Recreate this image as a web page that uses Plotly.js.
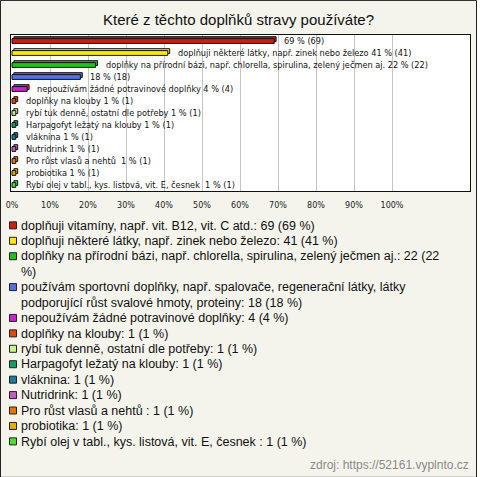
<!DOCTYPE html>
<html>
<head>
<meta charset="utf-8">
<script src="https://cdn.plot.ly/plotly-3.0.1.min.js"></script>
<style>
  html, body { margin: 0; padding: 0; background: #ffffff; }
  #chart { width: 477px; height: 477px; }
</style>
</head>
<body>
<div id="chart"></div>
<script>
// ---- data ----
const categories = [
  "doplňuji vitamíny, např. vit. B12, vit. C atd.",
  "doplňuji některé látky, např. zinek nebo železo",
  "doplňky na přírodní bázi, např. chlorella, spirulina, zelený ječmen aj.",
  "používám sportovní doplňky, např. spalovače, regenerační látky, látky podporující růst svalové hmoty, proteiny",
  "nepoužívám žádné potravinové doplňky",
  "doplňky na klouby",
  "rybí tuk denně, ostatní dle potřeby",
  "Harpagofyt ležatý na klouby",
  "vláknina",
  "Nutridrink",
  "Pro růst vlasů a nehtů ",
  "probiotika",
  "Rybí olej v tabl., kys. listová, vit. E, česnek "
];
const counts = [69, 41, 22, 18, 4, 1, 1, 1, 1, 1, 1, 1, 1];
const percents = [69, 41, 22, 18, 4, 1, 1, 1, 1, 1, 1, 1, 1];
// whether the bar label inside the plot repeats the category name
const showNameOnBar = [false, true, true, false, true, true, true, true, true, true, true, true, true];
// legend text wrapping (as in the reference)
const legendLabels = [
  "doplňuji vitamíny, např. vit. B12, vit. C atd.: 69 (69 %)",
  "doplňuji některé látky, např. zinek nebo železo: 41 (41 %)",
  "doplňky na přírodní bázi, např. chlorella, spirulina, zelený ječmen aj.: 22 (22<br>%)",
  "používám sportovní doplňky, např. spalovače, regenerační látky, látky<br>podporující růst svalové hmoty, proteiny: 18 (18 %)",
  "nepoužívám žádné potravinové doplňky: 4 (4 %)",
  "doplňky na klouby: 1 (1 %)",
  "rybí tuk denně, ostatní dle potřeby: 1 (1 %)",
  "Harpagofyt ležatý na klouby: 1 (1 %)",
  "vláknina: 1 (1 %)",
  "Nutridrink: 1 (1 %)",
  "Pro růst vlasů a nehtů : 1 (1 %)",
  "probiotika: 1 (1 %)",
  "Rybí olej v tabl., kys. listová, vit. E, česnek : 1 (1 %)"
];
const colors = ["#c8210e", "#ffe812", "#22c022", "#4f72e3", "#cc22cc", "#e2470f", "#c4f58a",
                "#13a060", "#1f7c99", "#c060c0", "#e3770d", "#e6ad0a", "#4be030"];
const tickVals = [0, 10, 20, 30, 40, 50, 60, 70, 80, 90, 100];
const tickText = tickVals.map(v => v + "%");
const titleText = "Které z těchto doplňků stravy používáte?";
const sourceText = "zdroj: https://52161.vyplnto.cz";

// ---- layout geometry (pixels) ----
const FIG_W = 477, FIG_H = 477;
const L = 11, T = 35, PW = 459, PH = 155.7;
const R = FIG_W - L - PW, B = FIG_H - T - PH;
const pxX = px => (px - L) / PW;
const pxY = py => (T + PH - py) / PH;
const pxPerUnit = 3.8;
const x0 = -1 / pxPerUnit;
const x1 = x0 + PW / pxPerUnit;

const barText = categories.map((c, i) =>
  (showNameOnBar[i] ? c + " " : "") + percents[i] + " % (" + counts[i] + ")");

const traces = [
  { // back face (3D depth)
    type: "bar", orientation: "h",
    y: categories, x: percents, base: 0.5,
    width: 0.4, offset: -0.36,
    marker: { color: colors, line: { color: "#111", width: 1 } },
    hoverinfo: "skip", showlegend: false
  },
  { // front face
    type: "bar", orientation: "h",
    y: categories, x: percents,
    width: 0.4, offset: -0.2,
    marker: { color: colors, line: { color: "#111", width: 1 } },
    showlegend: false
  }
];

const annotations = [];
// labels next to the bars
categories.forEach((c, i) => {
  annotations.push({
    x: percents[i], y: c, xref: "x", yref: "y",
    text: barText[i], showarrow: false, xanchor: "left", yanchor: "middle",
    xshift: 8, yshift: 0,
    font: { family: "DejaVu Sans", size: 8.2, color: "#111" }
  });
});

// custom legend
const shapes = [];
const legendTop = 225, lineH = 15.4;
let line = 0;
legendLabels.forEach((lab, i) => {
  const cy = legendTop + line * lineH;
  shapes.push({
    type: "rect", xref: "paper", yref: "paper",
    x0: pxX(9.5), x1: pxX(16.5), y0: pxY(cy - 3.5), y1: pxY(cy + 3.5),
    fillcolor: colors[i], line: { color: "#222", width: 1 }
  });
  annotations.push({
    x: pxX(19), y: pxY(cy - 8.8), xref: "paper", yref: "paper",
    text: lab, showarrow: false, xanchor: "left", yanchor: "top", align: "left",
    font: { family: "Liberation Sans, Arial, sans-serif", size: 12.5, color: "#111" }
  });
  line += (lab.split("<br>").length);
});

// source note
annotations.push({
  x: pxX(471), y: pxY(464), xref: "paper", yref: "paper",
  text: sourceText, showarrow: false, xanchor: "right", yanchor: "middle",
  font: { family: "Liberation Sans, Arial, sans-serif", size: 12, color: "#8a8a8a" }
});

// outer frame
shapes.push({
  type: "rect", xref: "paper", yref: "paper", layer: "above",
  x0: pxX(0.5), x1: pxX(476.5), y0: pxY(0.5), y1: pxY(476.5),
  line: { color: "#222", width: 1 }, fillcolor: "rgba(0,0,0,0)"
});

const layout = {
  width: FIG_W, height: FIG_H,
  margin: { l: L, r: R, t: T, b: B, pad: 0 },
  paper_bgcolor: "#f4f4ec",
  plot_bgcolor: "#ffffff",
  barmode: "overlay",
  showlegend: false,
  title: {
    text: titleText, xref: "container", yref: "container",
    x: 238.5 / FIG_W, y: 1 - 20 / FIG_H, xanchor: "center", yanchor: "middle",
    font: { family: "Liberation Sans, Arial, sans-serif", size: 15, color: "#111" }
  },
  xaxis: {
    range: [x0, x1], tickmode: "array", tickvals: tickVals, ticktext: tickText,
    showgrid: true, gridcolor: "#c4c4c4", gridwidth: 1, zeroline: false,
    showline: true, linecolor: "#111", linewidth: 1, mirror: true,
    ticks: "", ticklen: 0, ticklabelstandoff: 6,
    tickfont: { family: "DejaVu Sans", size: 8, color: "#222" }
  },
  yaxis: {
    type: "category", range: [12.5, -0.5], showticklabels: false,
    showgrid: false, zeroline: false,
    showline: true, linecolor: "#111", linewidth: 1, mirror: true, ticks: ""
  },
  annotations: annotations,
  shapes: shapes
};

Plotly.newPlot("chart", traces, layout, { displayModeBar: false, staticPlot: true });
</script>
</body>
</html>
